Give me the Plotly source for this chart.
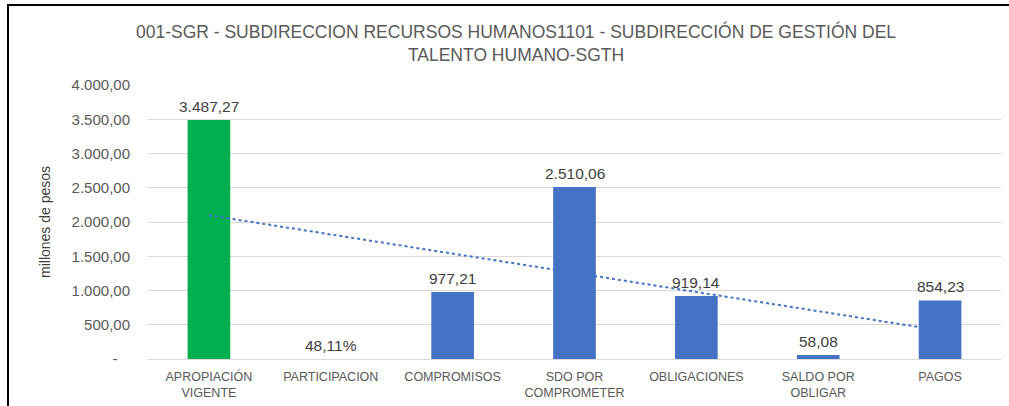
import numpy as np
import plotly.graph_objects as go

categories = ["APROPIACIÓN<br>VIGENTE", "PARTICIPACION", "COMPROMISOS", "SDO POR<br>COMPROMETER",
              "OBLIGACIONES", "SALDO POR<br>OBLIGAR", "PAGOS"]
values = [3487.27, 0.4811, 977.21, 2510.06, 919.14, 58.08, 854.23]
value_labels = ["3.487,27", "48,11%", "977,21", "2.510,06", "919,14", "58,08", "854,23"]
bar_colors = ["#00B050", "rgba(68,114,196,0)", "#4472C4", "#4472C4", "#4472C4", "#4472C4", "#4472C4"]
tick_vals = [0, 500, 1000, 1500, 2000, 2500, 3000, 3500, 4000]
tick_text = ["-\u00a0\u00a0\u00a0", "500,00", "1.000,00", "1.500,00", "2.000,00", "2.500,00",
             "3.000,00", "3.500,00", "4.000,00"]
title_text = ("001-SGR - SUBDIRECCION RECURSOS HUMANOS1101 - SUBDIRECCIÓN DE GESTIÓN DEL"
              "<br>TALENTO HUMANO-SGTH")

W, H = 1009, 406
L, R, T, B = 148, 8, 85, 47
pw, ph = W - L - R, H - T - B

def px_x(x):
    return (x - L) / pw

def px_y(y):
    return (H - B - y) / ph

idx = np.arange(len(values))
slope, intercept = np.polyfit(idx, values, 1)
trend = intercept + slope * idx

fig = go.Figure()
fig.add_trace(go.Bar(x=categories, y=values, marker_color=bar_colors, width=0.35,
                     marker_line_width=0, showlegend=False, hoverinfo="skip"))
fig.add_trace(go.Scatter(x=categories, y=trend, mode="lines",
                         line=dict(color="#4472C4", width=2, dash="dot"),
                         showlegend=False, hoverinfo="skip"))

for c, v, t in zip(categories, values, value_labels):
    fig.add_annotation(x=c, y=v, text=t, showarrow=False, yanchor="bottom", yshift=3,
                       font=dict(family="Liberation Sans, Arial", size=15.5, color="#404040"))

fig.add_annotation(xref="paper", yref="paper", x=px_x(45), y=px_y(222),
                   text="millones de pesos", textangle=-90, showarrow=False,
                   xanchor="center", yanchor="middle",
                   font=dict(family="Liberation Sans, Arial", size=14, color="#404040"))

# chart frame
fig.add_shape(type="path", xref="paper", yref="paper",
              path=f"M {px_x(8)} {px_y(420)} L {px_x(8)} {px_y(5)} L {px_x(1020)} {px_y(5)}",
              line=dict(color="#000000", width=2))

fig.update_layout(
    width=W, height=H,
    margin=dict(l=L, r=R, t=T, b=B, pad=0, autoexpand=False),
    paper_bgcolor="white", plot_bgcolor="white",
    title=dict(text=title_text, xref="container", yref="container",
               x=516 / W, y=1 - 38 / H, xanchor="center", yanchor="middle",
               font=dict(family="Liberation Sans", size=17.5, color="#595959")),
    bargap=0.65,
    xaxis=dict(showgrid=False, showline=False, zeroline=False, ticks="", automargin=False,
               ticklabelstandoff=8,
               tickfont=dict(family="Liberation Sans, Arial", size=12.5, color="#595959")),
    yaxis=dict(range=[0, 4000], tickvals=tick_vals, ticktext=tick_text, automargin=False,
               showgrid=True, gridcolor="#D9D9D9", gridwidth=1,
               zeroline=True, zerolinecolor="#D9D9D9", zerolinewidth=1,
               showline=False, ticks="", ticklabelstandoff=17,
               tickfont=dict(family="Liberation Sans, Arial", size=15, color="#595959")),
)

fig.write_html("out.html", config={"displayModeBar": False},
               post_script="document.body.style.margin='0';document.body.style.overflow='hidden';")
